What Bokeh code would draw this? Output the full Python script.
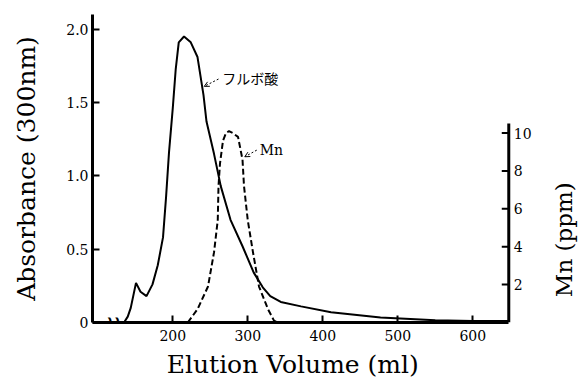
import math
from bokeh.plotting import figure
from bokeh.models import Range1d, FixedTicker, Arrow, OpenHead, Label, LinearAxis
from bokeh.embed import file_html
from bokeh.resources import INLINE

# Fulvic acid absorbance (300 nm) vs elution volume (ml)
vol_fa = [135, 140, 144, 151, 157, 165, 173, 180, 187, 191, 195, 200, 204, 208, 215, 224,
          233, 241, 245, 255, 264, 277, 293, 308, 320, 330, 344, 371, 411, 477, 550, 600, 648]
abs_fa = [0.0, 0.04, 0.10, 0.27, 0.21, 0.18, 0.26, 0.39, 0.58, 0.85, 1.16, 1.46, 1.73, 1.91,
          1.95, 1.91, 1.81, 1.55, 1.37, 1.15, 0.93, 0.70, 0.52, 0.34, 0.24, 0.18, 0.14, 0.11,
          0.07, 0.034, 0.015, 0.01, 0.01]

# Mn (ppm) vs elution volume (ml)
vol_mn = [220, 233, 247, 255, 260, 261, 263, 267, 271, 275, 280, 287, 293, 295, 300, 307,
          315, 327, 335, 340]
mn_ppm = [0.0, 0.7, 1.9, 3.7, 5.4, 7.2, 8.4, 9.6, 10.0, 10.1, 10.0, 9.8, 8.6, 7.2, 5.4, 3.7,
          1.9, 0.7, 0.1, 0.0]

x_ticks = [200, 300, 400, 500, 600]
abs_ticks = [0, 0.5, 1.0, 1.5, 2.0]
abs_labels = ["0", "0.5", "1.0", "1.5", "2.0"]
mn_ticks = [2, 4, 6, 8, 10]
mn_tick_labels = ["2", "4", "6", "8", "10"]
x_break = 121

# axis geometry (data units)
X_MIN, X_MAX = 93, 648          # drawn extent of the volume axis
X_VIEW = 742.3                  # room to the right for the Mn scale
MN_TOP = 10.5
PX = 555 / 416                  # volume units per screen pixel
X_TITLE_AT = 360                # where the volume-axis title is centred

SERIF = "DejaVu Serif"

p = figure(width=579, height=381, output_backend="svg", toolbar_location=None,
           x_range=Range1d(X_MIN, X_VIEW), y_range=Range1d(0, 2.1),
           min_border_left=92, min_border_right=0, min_border_top=14, min_border_bottom=58)
p.extra_y_ranges = {"mn": Range1d(0, 16.26)}
p.outline_line_color = None
p.grid.visible = False
p.background_fill_color = "white"
p.border_fill_color = "white"

def style_axis(ax):
    ax.axis_line_width = 3
    ax.axis_line_color = "black"
    ax.major_tick_in = 7
    ax.major_tick_out = 0
    ax.major_tick_line_width = 2
    ax.minor_tick_line_color = None
    ax.major_label_text_font = SERIF
    ax.major_label_text_font_size = "14px"
    ax.major_label_text_color = "black"
    ax.axis_label_text_font = SERIF
    ax.axis_label_text_font_size = "25px"
    ax.axis_label_text_font_style = "normal"
    ax.axis_label_text_color = "black"

xa = p.xaxis[0]
style_axis(xa)
xa.bounds = (X_MIN, X_MAX)
xa.ticker = FixedTicker(ticks=x_ticks)
xa.major_label_standoff = 7

# volume-axis title, centred under the drawn part of the axis
xt = LinearAxis(ticker=FixedTicker(ticks=[X_TITLE_AT]),
                major_label_overrides={X_TITLE_AT: "Elution Volume (ml)"})
xt.axis_line_color = None
xt.major_tick_line_color = None
xt.minor_tick_line_color = None
xt.major_label_text_font = SERIF
xt.major_label_text_font_size = "25px"
xt.major_label_text_color = "black"
xt.major_label_standoff = 0
p.add_layout(xt, "below")

ya = p.yaxis[0]
style_axis(ya)
ya.ticker = FixedTicker(ticks=abs_ticks)
ya.major_label_overrides = {t: s for t, s in zip(abs_ticks, abs_labels)}
ya.major_label_standoff = 4
ya.axis_label = "Absorbance (300nm)"
ya.axis_label_standoff = 22

# right-hand Mn scale at the end of the volume axis
p.segment(x0=[X_MAX], y0=[0], x1=[X_MAX], y1=[MN_TOP], y_range_name="mn",
          line_color="black", line_width=3)
p.segment(x0=[X_MAX - 7 * PX] * len(mn_ticks), y0=mn_ticks,
          x1=[X_MAX] * len(mn_ticks), y1=mn_ticks, y_range_name="mn",
          line_color="black", line_width=2)
p.text(x=[X_MAX + 5 * PX] * len(mn_ticks), y=mn_ticks, text=mn_tick_labels,
       y_range_name="mn", text_font={"value": SERIF}, text_font_size="14px",
       text_align="left", text_baseline="middle", text_color="black")
p.text(x=[X_MAX + 55 * PX], y=[4.37], text=["Mn (ppm)"], angle=math.pi / 2,
       y_range_name="mn", text_font={"value": SERIF}, text_font_size="23px",
       text_align="center", text_baseline="middle", text_color="black")

p.line(vol_fa, abs_fa, line_color="black", line_width=2)
p.line(vol_mn, mn_ppm, line_color="black", line_width=2, line_dash="6 3", y_range_name="mn")

# annotations
p.add_layout(Arrow(end=OpenHead(size=5, line_width=1), x_start=261, y_start=1.66,
                   x_end=242, y_end=1.61, line_width=1, line_dash="2 2"))
p.add_layout(Label(x=266, y=1.67, text="フルボ酸", text_font="Noto Sans CJK JP",
                   text_font_size="14px", text_baseline="middle", text_color="black"))
p.add_layout(Arrow(end=OpenHead(size=5, line_width=1), x_start=312, y_start=9.1,
                   x_end=296, y_end=8.75, line_width=1, line_dash="2 2", y_range_name="mn"))
p.add_layout(Label(x=316, y=9.1, text="Mn", text_font=SERIF, text_font_size="14px",
                   text_baseline="middle", text_color="black", y_range_name="mn"))

# axis break mark
p.add_layout(Label(x=x_break, y=0, text="≀≀", text_font="DejaVu Sans", text_font_size="20px",
                   text_font_style="bold", text_align="center", text_baseline="middle",
                   text_color="black"))

open("out.html", "w").write(file_html(p, INLINE))
